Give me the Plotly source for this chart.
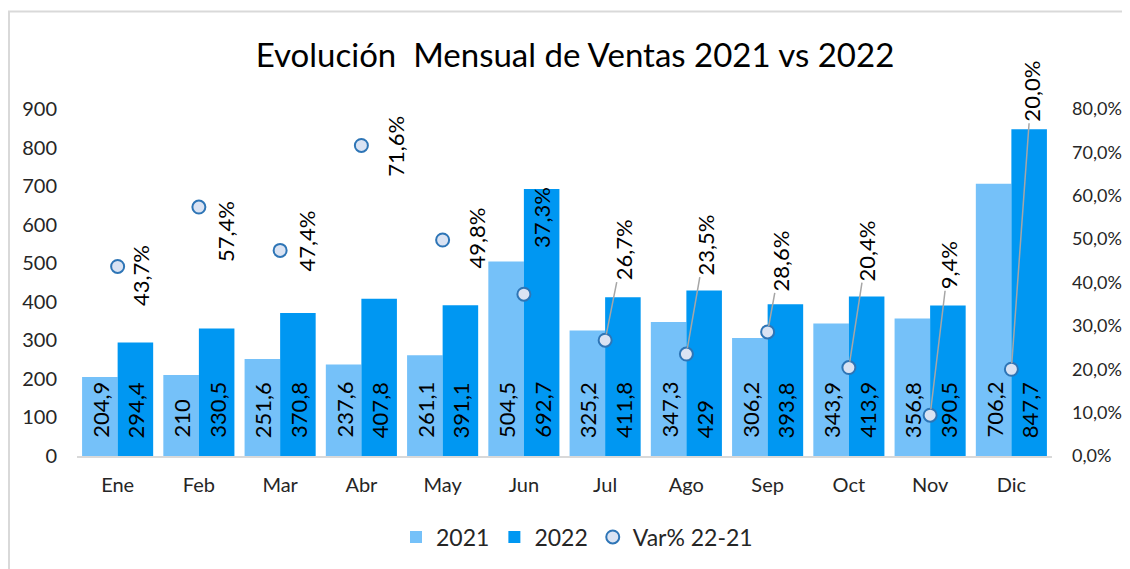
import plotly.graph_objects as go

months = ["Ene", "Feb", "Mar", "Abr", "May", "Jun", "Jul", "Ago", "Sep", "Oct", "Nov", "Dic"]
ventas_2021 = [204.9, 210, 251.6, 237.6, 261.1, 504.5, 325.2, 347.3, 306.2, 343.9, 356.8, 706.2]
ventas_2022 = [294.4, 330.5, 370.8, 407.8, 391.1, 692.7, 411.8, 429, 393.8, 413.9, 390.5, 847.7]
var_pct = [43.7, 57.4, 47.4, 71.6, 49.8, 37.3, 26.7, 23.5, 28.6, 20.4, 9.4, 20.0]

# label offsets (pixels) of percentage labels relative to their markers
lab_dx = [23, 26, 26, 34, 34, 17, 18, 19, 13, 18, 18, 20]
lab_dy = [9, 24, -9, 1, -2, -77, -90, -109, -71, -117, -150, -278]
leader = [False, False, False, False, False, False, True, True, True, True, True, True]

FONT = "Lato"
C21 = "#75C1F9"
C22 = "#0097F2"

x = list(range(len(months)))

fig = go.Figure()
fig.add_trace(go.Bar(x=x, y=ventas_2021, name="2021", marker=dict(color=C21, line=dict(width=0))))
fig.add_trace(go.Bar(x=x, y=ventas_2022, name="2022", marker=dict(color=C22, line=dict(width=0))))
fig.add_trace(go.Scatter(x=x, y=[v / 100 for v in var_pct], name="Var% 22-21", yaxis="y2",
                         mode="markers",
                         marker=dict(size=13, color="#DAE3F3", line=dict(color="#2E75B6", width=2))))

def fmt(v):
    s = f"{v:g}"
    return s.replace(".", ",")

ann = []
bw = 0.4375
for i in x:
    for v, off in ((ventas_2021[i], -bw / 2), (ventas_2022[i], bw / 2)):
        ann.append(dict(x=i + off, y=0, xref="x", yref="y", text=fmt(v), showarrow=False,
                        textangle=-90, yanchor="bottom", xanchor="center", yshift=16,
                        font=dict(family=FONT, size=22, color="#000000")))
for i in x:
    ann.append(dict(x=i, y=var_pct[i] / 100, xref="x", yref="y2",
                    text=f"{var_pct[i]:.1f}%".replace(".", ","),
                    showarrow=True, arrowhead=0, arrowwidth=1.5, standoff=6,
                    arrowcolor="#A6A6A6" if leader[i] else "rgba(0,0,0,0)",
                    ax=lab_dx[i], ay=lab_dy[i], textangle=-90,
                    font=dict(family=FONT, size=22, color="#000000")))

# page has an 8px body margin: figure coords = page coords - 8
W, H = 1122, 561
PL, PR, PT, PB = 69, 1044, 101, 448  # plot area in figure coords
pw, ph = PR - PL, PB - PT

def px(xp):
    return (xp - 8 - PL) / pw

def py(yp):
    return (PB - (yp - 8)) / ph

fig.update_layout(
    width=W, height=H,
    margin=dict(l=PL, r=W - PR, t=PT, b=H - PB, autoexpand=False),
    paper_bgcolor="white", plot_bgcolor="white",
    separators=",.",
    barmode="group", bargap=0.125, bargroupgap=0,
    font=dict(family=FONT, color="#262626"),
    title=dict(text="Evolución\u00a0 Mensual de Ventas 2021 vs 2022", x=(575 - 8) / W, xanchor="center",
               y=1 - (55 - 8) / H, yanchor="middle", yref="container",
               font=dict(family=FONT, size=33, color="#000000")),
    xaxis=dict(range=[-0.5, 11.5], tickvals=x, ticktext=months, showgrid=False, zeroline=False,
               showline=True, linecolor="#D9D9D9", linewidth=2, ticks="", automargin=False,
               tickfont=dict(family=FONT, size=20, color="#262626"), ticklabelstandoff=10),
    yaxis=dict(range=[0, 900], dtick=100, showgrid=False, zeroline=False, showline=False,
               automargin=False,
               tickfont=dict(family=FONT, size=20, color="#262626"), ticklabelstandoff=19),
    yaxis2=dict(range=[0, 0.8], dtick=0.1, tickformat=".1%", overlaying="y", side="right",
                showgrid=False, zeroline=False, showline=False, automargin=False,
                tickfont=dict(family=FONT, size=18, color="#262626"), ticklabelstandoff=19),
    legend=dict(orientation="h", x=px(577), xanchor="center", y=py(537), yanchor="middle",
                font=dict(family=FONT, size=23, color="#262626"), itemwidth=30),
    annotations=ann,
    shapes=[
        dict(type="line", xref="paper", yref="paper", x0=px(7.5), x1=px(1140),
             y0=py(11.5), y1=py(11.5), line=dict(color="#D9D9D9", width=2)),
        dict(type="line", xref="paper", yref="paper", x0=px(9), x1=px(9),
             y0=py(11.5), y1=py(580), line=dict(color="#D9D9D9", width=2)),
    ],
)

fig.write_html("out.html")
